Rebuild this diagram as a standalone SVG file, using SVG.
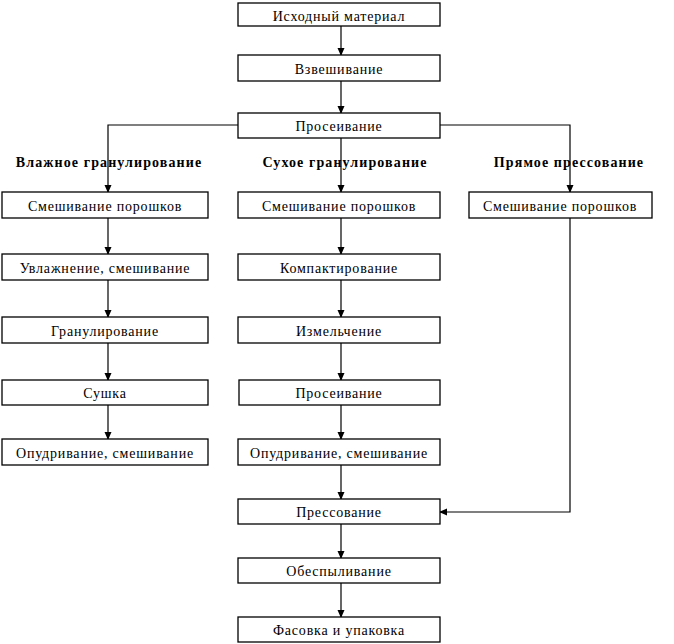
<svg xmlns="http://www.w3.org/2000/svg" width="674" height="644" viewBox="0 0 674 644">
<style>
.b rect{fill:#fff;stroke:#000;stroke-width:1.3}
.b text,.h{font-family:"Liberation Serif","Times New Roman",serif;font-size:14px;text-anchor:middle;letter-spacing:0.8px}
.h{font-weight:bold;letter-spacing:1.1px}
.c path{fill:none;stroke:#000;stroke-width:1.2}
</style>
<defs>
<marker id="a" markerWidth="8" markerHeight="9" refX="7" refY="4" orient="auto" markerUnits="userSpaceOnUse">
<path d="M0,0.5 L8,4 L0,7.5 Z" fill="#000"/>
</marker>
</defs>
<rect width="674" height="644" fill="#fff"/>
<g class="c">
<path d="M341,26 V55" marker-end="url(#a)"/>
<path d="M341,81 V113" marker-end="url(#a)"/>
<path d="M238,125 H108 V192" marker-end="url(#a)"/>
<path d="M341,138 V192" marker-end="url(#a)"/>
<path d="M440,125 H570 V192" marker-end="url(#a)"/>
<path d="M108,218 V254" marker-end="url(#a)"/>
<path d="M108,280 V317" marker-end="url(#a)"/>
<path d="M108,343 V380" marker-end="url(#a)"/>
<path d="M108,405 V439" marker-end="url(#a)"/>
<path d="M341,218 V254" marker-end="url(#a)"/>
<path d="M341,280 V317" marker-end="url(#a)"/>
<path d="M341,343 V380" marker-end="url(#a)"/>
<path d="M341,405 V439" marker-end="url(#a)"/>
<path d="M341,465 V499" marker-end="url(#a)"/>
<path d="M570,218 V512 H440" marker-end="url(#a)"/>
<path d="M341,524 V558" marker-end="url(#a)"/>
<path d="M341,583 V617" marker-end="url(#a)"/>
</g>
<text class="h" x="109" y="167">Влажное гранулирование</text>
<text class="h" x="345" y="167">Сухое гранулирование</text>
<text class="h" x="569" y="167">Прямое прессование</text>
<g id="n1" class="b"><rect x="238" y="3" width="202" height="23"/><text x="339" y="21">Исходный материал</text></g>
<g id="n2" class="b"><rect x="238" y="55" width="202" height="26"/><text x="339" y="74">Взвешивание</text></g>
<g id="n3" class="b"><rect x="238" y="113" width="202" height="25"/><text x="339" y="131">Просеивание</text></g>
<g id="w1" class="b"><rect x="2" y="192" width="206" height="26"/><text x="105" y="211">Смешивание порошков</text></g>
<g id="w2" class="b"><rect x="2" y="254" width="206" height="26"/><text x="105" y="273">Увлажнение, смешивание</text></g>
<g id="w3" class="b"><rect x="2" y="317" width="206" height="26"/><text x="105" y="336">Гранулирование</text></g>
<g id="w4" class="b"><rect x="2" y="380" width="206" height="25"/><text x="105" y="398">Сушка</text></g>
<g id="w5" class="b"><rect x="2" y="439" width="206" height="26"/><text x="105" y="458">Опудривание, смешивание</text></g>
<g id="d1" class="b"><rect x="238" y="192" width="202" height="26"/><text x="339" y="211">Смешивание порошков</text></g>
<g id="d2" class="b"><rect x="238" y="254" width="202" height="26"/><text x="339" y="273">Компактирование</text></g>
<g id="d3" class="b"><rect x="238" y="317" width="202" height="26"/><text x="339" y="336">Измельчение</text></g>
<g id="d4" class="b"><rect x="239" y="380" width="201" height="25"/><text x="339" y="398">Просеивание</text></g>
<g id="d5" class="b"><rect x="238" y="439" width="202" height="26"/><text x="339" y="458">Опудривание, смешивание</text></g>
<g id="p1" class="b"><rect x="469" y="192" width="183" height="26"/><text x="560" y="211">Смешивание порошков</text></g>
<g id="f1" class="b"><rect x="238" y="499" width="202" height="25"/><text x="339" y="517">Прессование</text></g>
<g id="f2" class="b"><rect x="238" y="558" width="202" height="25"/><text x="339" y="576">Обеспыливание</text></g>
<g id="f3" class="b"><rect x="238" y="617" width="202" height="25"/><text x="339" y="635">Фасовка и упаковка</text></g>
</svg>
